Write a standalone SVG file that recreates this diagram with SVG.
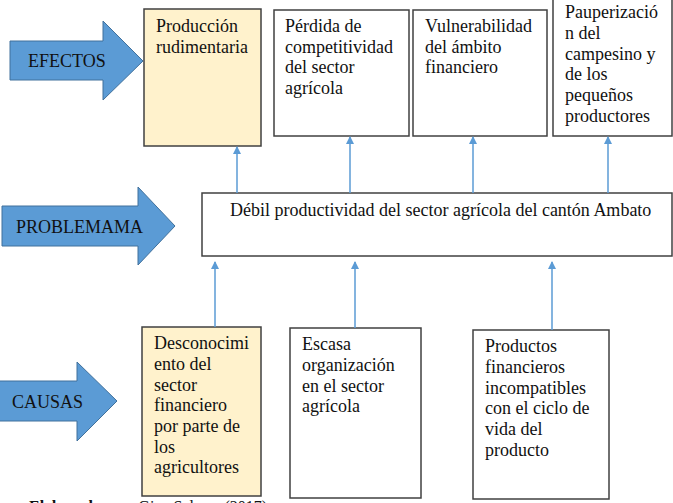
<svg xmlns="http://www.w3.org/2000/svg" width="673" height="503" viewBox="0 0 673 503">
  <defs>
    <style>
      .box { fill: #ffffff; stroke: #404040; stroke-width: 1.5; }
      .hl { fill: #fff2cc; }
      .big { fill: #5b9bd5; stroke: #41719c; stroke-width: 1; }
      .conn { stroke: #5b9bd5; stroke-width: 1.5; fill: none; marker-end: url(#tip); }
    </style>
    <marker id="tip" viewBox="0 0 8 8" refX="7" refY="4" markerWidth="8" markerHeight="8" markerUnits="userSpaceOnUse" orient="auto">
      <path d="M0,0 L8,4 L0,8 Z" fill="#5b9bd5"/>
    </marker>
  </defs>

  <rect width="673" height="503" fill="#ffffff"/>

  <g font-family="'Liberation Serif', 'DejaVu Serif', serif" font-size="18" fill="#111111">
    <!-- Row labels (block arrows) -->
    <g id="label-efectos">
      <path class="big" d="M10,41 H103 V21 L143,61 L103,100 V80 H10 Z"/>
      <text x="28" y="67">EFECTOS</text>
    </g>
    <g id="label-problema">
      <path class="big" d="M2,206 H138 V187 L175,226 L138,265 V246 H2 Z"/>
      <text x="16" y="233">PROBLEMAMA</text>
    </g>
    <g id="label-causas">
      <path class="big" d="M-1,381 H77 V362 L117,401 L77,441 V421 H-1 Z"/>
      <text x="12" y="408">CAUSAS</text>
    </g>

    <!-- Effects -->
    <g id="efecto-1">
      <rect class="box hl" x="144" y="9" width="117" height="137"/>
      <text x="156" y="32">Producción</text>
      <text x="156" y="53">rudimentaria</text>
    </g>
    <g id="efecto-2">
      <rect class="box" x="274" y="10" width="135" height="126"/>
      <text x="285" y="32">Pérdida de</text>
      <text x="285" y="53">competitividad</text>
      <text x="285" y="73">del sector</text>
      <text x="285" y="94">agrícola</text>
    </g>
    <g id="efecto-3">
      <rect class="box" x="413" y="10" width="134" height="126"/>
      <text x="425" y="32">Vulnerabilidad</text>
      <text x="425" y="53">del ámbito</text>
      <text x="425" y="73">financiero</text>
    </g>
    <g id="efecto-4">
      <rect class="box" x="553" y="-10" width="119" height="146"/>
      <text x="565" y="18">Pauperizació</text>
      <text x="565" y="39">n del</text>
      <text x="565" y="60">campesino y</text>
      <text x="565" y="80">de los</text>
      <text x="565" y="101">pequeños</text>
      <text x="565" y="122">productores</text>
    </g>

    <!-- Central problem -->
    <g id="problema">
      <rect class="box" x="202" y="193" width="470" height="63"/>
      <text x="230" y="216">Débil productividad del sector agrícola del cantón Ambato</text>
    </g>

    <!-- Causes -->
    <g id="causa-1">
      <rect class="box hl" x="142" y="327" width="119" height="169"/>
      <text x="154" y="349">Desconocimi</text>
      <text x="154" y="370">ento del</text>
      <text x="154" y="391">sector</text>
      <text x="154" y="411">financiero</text>
      <text x="154" y="432">por parte de</text>
      <text x="154" y="453">los</text>
      <text x="154" y="473">agricultores</text>
    </g>
    <g id="causa-2">
      <rect class="box" x="290" y="328" width="131" height="170"/>
      <text x="302" y="350">Escasa</text>
      <text x="302" y="371">organización</text>
      <text x="302" y="392">en el sector</text>
      <text x="302" y="412">agrícola</text>
    </g>
    <g id="causa-3">
      <rect class="box" x="473" y="330" width="136" height="169"/>
      <text x="485" y="352">Productos</text>
      <text x="485" y="373">financieros</text>
      <text x="485" y="394">incompatibles</text>
      <text x="485" y="414">con el ciclo de</text>
      <text x="485" y="435">vida del</text>
      <text x="485" y="456">producto</text>
    </g>

    <!-- Source note, running off the lower edge -->
    <text x="29" y="512" font-size="16"><tspan font-weight="bold">Elaborado por: </tspan>Gina Salazar (2017)</text>
  </g>

  <!-- Connectors -->
  <g id="connectors">
    <line class="conn" x1="237" y1="193" x2="237" y2="147"/>
    <line class="conn" x1="350" y1="193" x2="350" y2="137"/>
    <line class="conn" x1="473" y1="193" x2="473" y2="137"/>
    <line class="conn" x1="608" y1="193" x2="608" y2="137"/>
    <line class="conn" x1="215" y1="327" x2="215" y2="262"/>
    <line class="conn" x1="355" y1="328" x2="355" y2="262"/>
    <line class="conn" x1="552" y1="330" x2="552" y2="262"/>
  </g>
</svg>
